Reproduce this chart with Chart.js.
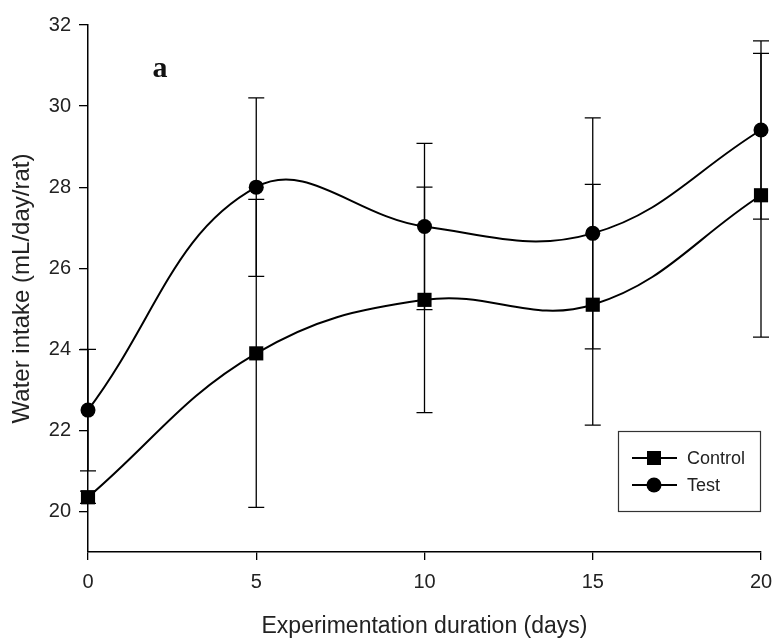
<!DOCTYPE html>
<html>
<head>
<meta charset="utf-8">
<title>Water intake</title>
<script src="https://cdn.jsdelivr.net/npm/chart.js@4/dist/chart.umd.min.js"></script>
<style>
    html, body { margin: 0; padding: 0; background: #fff; }
    #wrap { width: 773px; height: 638px; }
</style>
</head>
<body>
<div id="wrap"><canvas id="myChart" width="773" height="638"></canvas></div>
<script>
// --- data ---
const days = [0, 5, 10, 15, 20];
const controlMean = [20.35, 23.9, 25.22, 25.1, 27.8];
const controlErr = [0.15, 3.8, 2.78, 2.97, 3.5];
const testMean = [22.5, 28.0, 27.03, 26.86, 29.41];
const testErr = [1.5, 2.2, 2.05, 2.85, 2.2];
const xTicks = [0, 5, 10, 15, 20];
const yTicks = [20, 22, 24, 26, 28, 30, 32];

const ink = "#000";
const textColor = "#222";
const sansFont = "'Liberation Sans', Arial, sans-serif";

const toPoints = (xs, ys) => xs.map((x, i) => ({ x: x, y: ys[i] }));

// error bars, drawn under the lines and markers
const errorBars = {
    id: "errorBars",
    beforeDatasetsDraw(chart) {
        const { ctx, scales: { x, y } } = chart;
        const errs = [controlErr, testErr];
        ctx.save();
        ctx.strokeStyle = ink;
        ctx.lineWidth = 1.3;
        chart.data.datasets.forEach((ds, di) => {
            ds.data.forEach((p, i) => {
                const px = x.getPixelForValue(p.x);
                const top = y.getPixelForValue(p.y + errs[di][i]);
                const bot = y.getPixelForValue(p.y - errs[di][i]);
                ctx.beginPath();
                ctx.moveTo(px, top);
                ctx.lineTo(px, bot);
                ctx.moveTo(px - 8, top);
                ctx.lineTo(px + 8, top);
                ctx.moveTo(px - 8, bot);
                ctx.lineTo(px + 8, bot);
                ctx.stroke();
            });
        });
        ctx.restore();
    }
};

// panel letter and boxed legend
const extras = {
    id: "extras",
    afterDraw(chart) {
        const { ctx } = chart;
        ctx.save();
        ctx.fillStyle = "#111";
        ctx.font = "bold 30px 'Liberation Serif', 'Times New Roman', serif";
        ctx.textAlign = "center";
        ctx.textBaseline = "alphabetic";
        ctx.fillText("a", 160, 77);

        // legend box
        ctx.strokeStyle = "#333";
        ctx.lineWidth = 1.2;
        ctx.strokeRect(618.5, 431.5, 142, 80);
        const rows = [458, 485];
        chart.data.datasets.forEach((ds, i) => {
            const yy = rows[i];
            ctx.strokeStyle = ink;
            ctx.lineWidth = 2;
            ctx.beginPath();
            ctx.moveTo(632, yy);
            ctx.lineTo(677, yy);
            ctx.stroke();
            ctx.fillStyle = ink;
            if (ds.pointStyle === "rect") {
                ctx.fillRect(647, yy - 7, 14, 14);
            } else {
                ctx.beginPath();
                ctx.arc(654, yy, 7.5, 0, Math.PI * 2);
                ctx.fill();
            }
            ctx.fillStyle = textColor;
            ctx.font = "18px " + sansFont;
            ctx.textAlign = "left";
            ctx.textBaseline = "middle";
            ctx.fillText(ds.label, 687, yy + 1);
        });
        ctx.restore();
    }
};

const ctx = document.getElementById("myChart").getContext("2d");
const chart = new Chart(ctx, {
    type: "line",
    data: {
        datasets: [{
            label: "Control",
            data: toPoints(days, controlMean),
            borderColor: ink,
            backgroundColor: ink,
            borderWidth: 2,
            tension: 0.4,
            clip: false,
            pointStyle: "rect",
            pointRadius: 10,
            pointHoverRadius: 10,
            pointBorderWidth: 0
        }, {
            label: "Test",
            data: toPoints(days, testMean),
            borderColor: ink,
            backgroundColor: ink,
            borderWidth: 2,
            tension: 0.4,
            clip: false,
            pointStyle: "circle",
            pointRadius: 7.5,
            pointHoverRadius: 7.5,
            pointBorderWidth: 0
        }]
    },
    options: {
        responsive: false,
        animation: false,
        layout: { padding: { top: 25, right: 12, left: 0, bottom: 0 } },
        plugins: {
            legend: { display: false },
            tooltip: { enabled: false }
        },
        scales: {
            x: {
                type: "linear",
                min: 0,
                max: 20,
                afterBuildTicks: (s) => { s.ticks = xTicks.map(v => ({ value: v })); },
                afterFit: (s) => {
                    s.height = 86;
                    s.paddingLeft = 0;
                    s.paddingRight = 0;
                },
                grid: { drawOnChartArea: false, drawTicks: true, tickLength: 8, color: ink, lineWidth: 1.3 },
                border: { color: ink, width: 1.5 },
                ticks: { color: textColor, padding: 10, font: { size: 20, family: sansFont }, maxRotation: 0 },
                title: {
                    display: true,
                    text: "Experimentation duration (days)",
                    color: textColor,
                    font: { size: 23, family: sansFont, lineHeight: 1 },
                    padding: { top: 0, bottom: 0 }
                }
            },
            y: {
                min: 19,
                max: 32,
                afterBuildTicks: (s) => { s.ticks = yTicks.map(v => ({ value: v })); },
                afterFit: (s) => {
                    s.width = 88;
                    s.paddingTop = 0;
                    s.paddingBottom = 0;
                },
                grid: { drawOnChartArea: false, drawTicks: true, tickLength: 9, color: ink, lineWidth: 1.3 },
                border: { color: ink, width: 1.5 },
                ticks: { color: textColor, padding: 8, font: { size: 20, family: sansFont } },
                title: {
                    display: true,
                    text: "Water intake (mL/day/rat)",
                    color: textColor,
                    font: { size: 24, family: sansFont },
                    padding: { top: 8, bottom: 0 }
                }
            }
        }
    },
    plugins: [errorBars, extras]
});
</script>
</body>
</html>
